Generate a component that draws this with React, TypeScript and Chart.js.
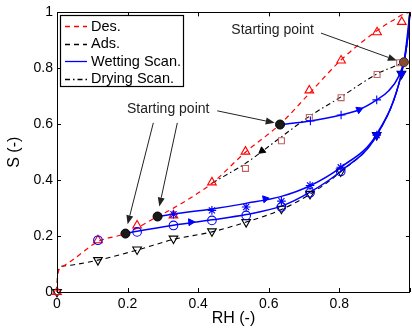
import React, { useEffect, useRef } from 'react';
import { Chart, registerables } from 'chart.js';

Chart.register(...registerables);

const FONT = '"Liberation Sans", Arial, Helvetica, sans-serif';

// Axis ticks
const xTicks = [0, 0.2, 0.4, 0.6, 0.8, 1];
const xTickLabels = ['0', '0.2', '0.4', '0.6', '0.8', ''];
const yTicks = [0, 0.2, 0.4, 0.6, 0.8, 1];
const yTickLabels = ['0', '0.2', '0.4', '0.6', '0.8', '1'];

// Desorption curve (model) and data markers
const desRH = [0, 0.002, 0.013, 0.037, 0.116, 0.194, 0.285, 0.33, 0.44, 0.534, 0.632, 0.715, 0.805, 0.907, 0.95, 0.99, 1];
const desS = [0, 0.06, 0.089, 0.108, 0.18, 0.209, 0.27, 0.3, 0.39, 0.5, 0.6, 0.71, 0.83, 0.935, 0.97, 0.998, 1];
const desMarkRH = [0, 0.116, 0.227, 0.33, 0.439, 0.534, 0.715, 0.805, 0.907, 0.977];
const desMarkS = [0, 0.185, 0.238, 0.274, 0.392, 0.502, 0.721, 0.828, 0.929, 0.966];

// Adsorption curve and markers
const adsRH = [0, 0.002, 0.018, 0.116, 0.227, 0.33, 0.439, 0.536, 0.636, 0.717, 0.804, 0.906, 0.976, 0.995, 1];
const adsS = [0, 0.075, 0.093, 0.114, 0.15, 0.188, 0.215, 0.25, 0.295, 0.35, 0.43, 0.56, 0.78, 0.92, 1];
const adsMarkRH = [0, 0.116, 0.227, 0.33, 0.439, 0.536, 0.636, 0.717, 0.804, 0.906, 0.976];
const adsMarkS = [0, 0.114, 0.152, 0.191, 0.217, 0.25, 0.298, 0.351, 0.431, 0.561, 0.78];

// Wetting scanning curves
const wet1RH = [0.194, 0.227, 0.33, 0.439, 0.536, 0.636, 0.717, 0.804, 0.906, 0.976, 0.995, 1];
const wet1S = [0.209, 0.217, 0.239, 0.258, 0.277, 0.307, 0.357, 0.432, 0.56, 0.78, 0.92, 1];
const wet2RH = [0.285, 0.33, 0.439, 0.536, 0.636, 0.717, 0.804, 0.906, 0.976, 0.995, 1];
const wet2S = [0.27, 0.279, 0.297, 0.317, 0.342, 0.38, 0.446, 0.565, 0.78, 0.92, 1];
const wet3RH = [0.632, 0.718, 0.805, 0.856, 0.906, 0.94, 0.966, 0.985, 1];
const wet3S = [0.599, 0.612, 0.633, 0.652, 0.687, 0.72, 0.766, 0.84, 1];
const circleRH = [0.116, 0.227, 0.33, 0.439, 0.536, 0.636, 0.717, 0.804];
const circleS = [0.185, 0.215, 0.238, 0.256, 0.274, 0.304, 0.355, 0.431];
const starRH = [0.33, 0.439, 0.536, 0.636, 0.717, 0.804, 0.906];
const starS = [0.278, 0.292, 0.304, 0.325, 0.381, 0.446, 0.561];
const plusRH = [0.718, 0.805, 0.906];
const plusS = [0.612, 0.633, 0.687];
const wetFilledRH = [0.906, 0.976];
const wetFilledS = [0.561, 0.78];
const wetArrowRH = [0.379, 0.59, 0.856];
const wetArrowS = [0.25, 0.333, 0.652];
const wetArrowAngle = [86, 79, 67];

// Drying scanning curve
const dryRH = [0.44, 0.534, 0.636, 0.715, 0.805, 0.907, 0.971, 0.983];
const dryS = [0.39, 0.46, 0.555, 0.628, 0.698, 0.78, 0.815, 0.822];
const squareRH = [0.534, 0.636, 0.715, 0.805, 0.907, 0.971];
const squareS = [0.442, 0.541, 0.624, 0.695, 0.778, 0.82];
const dryArrowRH = [0.581];
const dryArrowS = [0.505];
const dryArrowAngle = [232];

// Starting points
const startRH = [0.194, 0.285, 0.632];
const startS = [0.209, 0.27, 0.599];
const dryStartRH = [0.983];
const dryStartS = [0.822];

// Annotations (data coordinates)
const annotText = ['Starting point', 'Starting point'];
const annotRH = [0.315, 0.611];
const annotS = [0.655, 0.936];
const arrowFromRH = [0.273, 0.341, 0.454, 0.748];
const arrowFromS = [0.605, 0.605, 0.648, 0.926];
const arrowToRH = [0.2, 0.29, 0.617, 0.963];
const arrowToS = [0.242, 0.306, 0.605, 0.828];

const pts = (xs: number[], ys: number[]) => xs.map((x, i) => ({ x, y: ys[i] }));

const legendIdx = [0, 1, 2, 5];

const framePlugin = {
  id: 'frameAndExtras',
  afterDatasetsDraw(chart: any) {
    const { ctx, chartArea, scales } = chart;
    const { left, right, top, bottom } = chartArea;
    ctx.save();
    // frame
    ctx.strokeStyle = '#000';
    ctx.lineWidth = 1;
    ctx.setLineDash([]);
    ctx.strokeRect(Math.round(left) + 0.5, Math.round(top) + 0.5, Math.round(right - left) - 1, Math.round(bottom - top));
    // inward ticks
    const tl = 4;
    ctx.beginPath();
    xTicks.forEach((v) => {
      const px = Math.round(scales.x.getPixelForValue(v)) + 0.5;
      ctx.moveTo(px, bottom);
      ctx.lineTo(px, bottom - tl);
      ctx.moveTo(px, top);
      ctx.lineTo(px, top + tl);
    });
    yTicks.forEach((v) => {
      const py = Math.round(scales.y.getPixelForValue(v)) + 0.5;
      ctx.moveTo(left, py);
      ctx.lineTo(left + tl, py);
      ctx.moveTo(right, py);
      ctx.lineTo(right - tl, py);
    });
    ctx.stroke();

    // annotations
    ctx.fillStyle = '#222';
    ctx.strokeStyle = '#222';
    ctx.font = `14px ${FONT}`;
    ctx.textAlign = 'center';
    ctx.textBaseline = 'middle';
    annotText.forEach((t, i) => {
      ctx.fillText(t, scales.x.getPixelForValue(annotRH[i]), scales.y.getPixelForValue(annotS[i]));
    });
    arrowFromRH.forEach((_, i) => {
      const x1 = scales.x.getPixelForValue(arrowFromRH[i]);
      const y1 = scales.y.getPixelForValue(arrowFromS[i]);
      const x2 = scales.x.getPixelForValue(arrowToRH[i]);
      const y2 = scales.y.getPixelForValue(arrowToS[i]);
      const ang = Math.atan2(y2 - y1, x2 - x1);
      const hl = 9, hw = 3.5;
      const bx = x2 - hl * Math.cos(ang);
      const by = y2 - hl * Math.sin(ang);
      ctx.lineWidth = 1;
      ctx.beginPath();
      ctx.moveTo(x1, y1);
      ctx.lineTo(bx, by);
      ctx.stroke();
      ctx.beginPath();
      ctx.moveTo(x2, y2);
      ctx.lineTo(bx - hw * Math.sin(ang), by + hw * Math.cos(ang));
      ctx.lineTo(bx + hw * Math.sin(ang), by - hw * Math.cos(ang));
      ctx.closePath();
      ctx.fill();
    });

    // legend
    const lx = left + 3, ly = top + 3, lw = 123, lh = 71;
    ctx.fillStyle = '#fff';
    ctx.fillRect(lx, ly, lw, lh);
    ctx.strokeStyle = '#000';
    ctx.lineWidth = 1.2;
    ctx.strokeRect(Math.round(lx) + 0.5, Math.round(ly) + 0.5, lw, lh);
    ctx.font = `14.5px ${FONT}`;
    ctx.textAlign = 'left';
    ctx.textBaseline = 'middle';
    legendIdx.forEach((di, r) => {
      const ds = chart.data.datasets[di];
      const yy = ly + 11 + r * 17.4;
      ctx.strokeStyle = ds.borderColor;
      ctx.lineWidth = 1.3;
      ctx.setLineDash(ds.borderDash || []);
      ctx.beginPath();
      ctx.moveTo(lx + 5, Math.round(yy) + 0.5);
      ctx.lineTo(lx + 27, Math.round(yy) + 0.5);
      ctx.stroke();
      ctx.setLineDash([]);
      ctx.fillStyle = '#000';
      ctx.fillText(ds.label, lx + 31, yy + 0.5);
    });
    ctx.restore();
  },
};

export default function App() {
  const ref = useRef<HTMLCanvasElement | null>(null);
  useEffect(() => {
    document.body.style.margin = '0';
    const canvas = ref.current;
    if (!canvas) return;
    const lineBase = {
      showLine: true,
      pointRadius: 0,
      fill: false,
      cubicInterpolationMode: 'monotone' as const,
      clip: false as any,
    };
    const markBase = {
      showLine: false,
      clip: false as any,
      pointBackgroundColor: 'rgba(0,0,0,0)',
    };
    const chart = new Chart(canvas, {
      type: 'scatter',
      data: {
        datasets: [
          { ...lineBase, label: 'Des.', data: pts(desRH, desS), borderColor: '#ff0000', borderWidth: 1.2, borderDash: [5, 4], order: 20 },
          { ...lineBase, label: 'Ads.', data: pts(adsRH, adsS), borderColor: '#000000', borderWidth: 1.1, borderDash: [5, 4], order: 20 },
          { ...lineBase, label: 'Wetting Scan.', data: pts(wet1RH, wet1S), borderColor: '#0000ff', borderWidth: 1.5, order: 15 },
          { ...lineBase, label: 'Wetting Scan. 2', data: pts(wet2RH, wet2S), borderColor: '#0000ff', borderWidth: 1.5, order: 15 },
          { ...lineBase, label: 'Wetting Scan. 3', data: pts(wet3RH, wet3S), borderColor: '#0000ff', borderWidth: 1.5, order: 15 },
          { ...lineBase, label: 'Drying Scan.', data: pts(dryRH, dryS), borderColor: '#000000', borderWidth: 1.1, borderDash: [5, 3, 1.5, 3], order: 20 },
          { ...markBase, label: 'Des. data', data: pts(desMarkRH, desMarkS), pointStyle: 'triangle', pointRadius: 5, borderColor: '#ff0000', pointBorderColor: '#ff0000', pointBorderWidth: 1.1, order: 10 },
          { ...markBase, label: 'Ads. data', data: pts(adsMarkRH, adsMarkS), pointStyle: 'triangle', rotation: 180, pointRadius: 5, borderColor: '#000', pointBorderColor: '#000', pointBorderWidth: 1.1, order: 10 },
          { ...markBase, label: 'Drying data', data: pts(squareRH, squareS), pointStyle: 'rect', pointRadius: 4.2, borderColor: '#c06060', pointBorderColor: '#c06060', pointBorderWidth: 1.1, order: 10 },
          { ...markBase, label: 'Wetting circles', data: pts(circleRH, circleS), pointStyle: 'circle', pointRadius: 4.3, borderColor: '#0000ff', pointBorderColor: '#0000ff', pointBorderWidth: 1.1, order: 8 },
          { ...markBase, label: 'Wetting stars', data: pts(starRH, starS), pointStyle: 'star', pointRadius: 4.3, borderColor: '#0000ff', pointBorderColor: '#0000ff', pointBorderWidth: 1.1, order: 8 },
          { ...markBase, label: 'Wetting plus', data: pts(plusRH, plusS), pointStyle: 'cross', pointRadius: 4.3, borderColor: '#0000ff', pointBorderColor: '#0000ff', pointBorderWidth: 1.1, order: 8 },
          { ...markBase, label: 'Wetting filled', data: pts(wetFilledRH, wetFilledS), pointStyle: 'triangle', rotation: 180, pointRadius: 4.5, borderColor: '#0000ff', pointBorderColor: '#0000ff', pointBackgroundColor: '#0000ff', pointBorderWidth: 1, order: 7 },
          { ...markBase, label: 'Wetting arrows', data: pts(wetArrowRH, wetArrowS), pointStyle: 'triangle', pointRotation: wetArrowAngle, pointRadius: 4, borderColor: '#0000ff', pointBorderColor: '#0000ff', pointBackgroundColor: '#0000ff', pointBorderWidth: 1, order: 7 },
          { ...markBase, label: 'Drying arrows', data: pts(dryArrowRH, dryArrowS), pointStyle: 'triangle', pointRotation: dryArrowAngle, pointRadius: 4, borderColor: '#000', pointBorderColor: '#000', pointBackgroundColor: '#000', pointBorderWidth: 1, order: 7 },
          { ...markBase, label: 'Start', data: pts(startRH, startS), pointStyle: 'circle', pointRadius: 4.5, borderColor: '#000', pointBorderColor: '#000', pointBackgroundColor: '#1a1a1a', pointBorderWidth: 1, order: 1 },
          { ...markBase, label: 'Start dry', data: pts(dryStartRH, dryStartS), pointStyle: 'circle', pointRadius: 4.5, borderColor: '#000', pointBorderColor: '#333', pointBackgroundColor: '#8c4a2f', pointBorderWidth: 1, order: 1 },
        ],
      },
      options: {
        animation: false,
        responsive: false,
        devicePixelRatio: 1,
        layout: { padding: { left: 0, right: 0, top: 11, bottom: 0 } },
        plugins: { legend: { display: false }, tooltip: { enabled: false } },
        elements: { point: { hoverRadius: 0 } },
        scales: {
          x: {
            type: 'linear',
            min: 0,
            max: 1,
            afterBuildTicks: (s: any) => { s.ticks = xTicks.map((v) => ({ value: v })); },
            afterFit: (s: any) => { s.height = 42; },
            ticks: {
              callback: (_v: any, i: number) => xTickLabels[i],
              font: { family: FONT, size: 14 },
              color: '#000',
              padding: 4,
              maxRotation: 0,
              autoSkip: false,
            },
            grid: { display: false, drawTicks: false },
            border: { display: false },
            title: { display: true, text: 'RH (-)', color: '#000', font: { family: FONT, size: 16 }, padding: { top: 0, bottom: 6 } },
          },
          y: {
            type: 'linear',
            min: 0,
            max: 1,
            afterBuildTicks: (s: any) => { s.ticks = yTicks.map((v) => ({ value: v })); },
            afterFit: (s: any) => { s.width = 57; },
            ticks: {
              callback: (_v: any, i: number) => yTickLabels[i],
              font: { family: FONT, size: 14 },
              color: '#000',
              padding: 4,
              autoSkip: false,
            },
            grid: { display: false, drawTicks: false },
            border: { display: false },
            title: { display: true, text: 'S (-)', color: '#000', font: { family: FONT, size: 16 }, padding: { top: 5, bottom: 0 } },
          },
        },
      },
      plugins: [framePlugin],
    } as any);
    return () => chart.destroy();
  }, []);
  return (
    <div style={{ width: 412, height: 334, overflow: 'hidden', background: '#fff' }}>
      <canvas ref={ref} width={416} height={334} style={{ display: 'block' }} />
    </div>
  );
}
